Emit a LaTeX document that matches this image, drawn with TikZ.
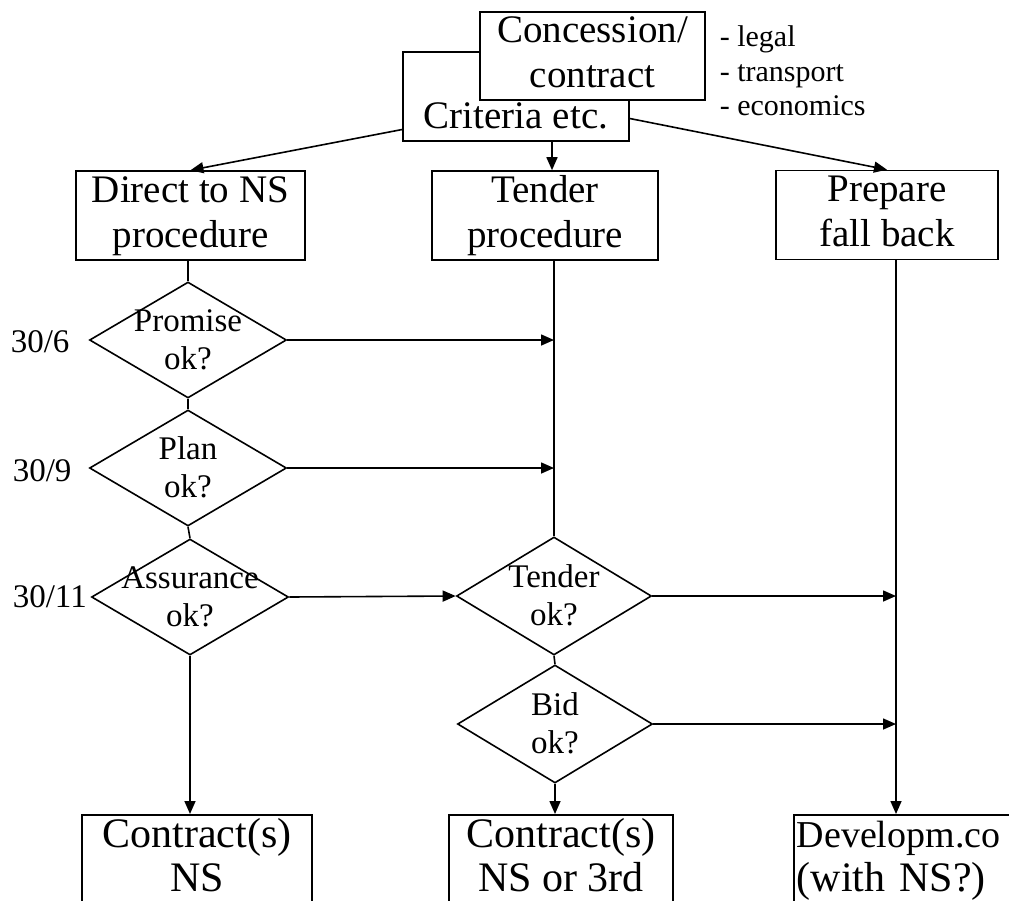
\documentclass[tikz,border=0pt]{standalone}
\usepackage{fontspec}
\setmainfont{Liberation Serif}
\usetikzlibrary{arrows.meta,shapes.geometric}

\newcommand\boxfont{\fontsize{39}{45}\selectfont}
\newcommand\resultfont{\fontsize{42}{44}\selectfont}
\newcommand\askfont{\fontsize{33}{38}\selectfont}
\newcommand\notefont{\fontsize{30}{35}\selectfont}
\newcommand\tstrut{\rule[-9pt]{0pt}{36pt}}

\begin{document}
\begin{tikzpicture}[x=1pt,y=-1pt,line width=1.6pt,
    box/.style={draw,rectangle,font=\boxfont,align=center,inner sep=0pt,minimum width=226pt,minimum height=89pt},
    resultbox/.style={draw,rectangle,font=\resultfont,align=center,inner xsep=0pt,inner ysep=2pt,anchor=north},
    ask/.style={draw,diamond,minimum width=197pt,minimum height=116pt,inner sep=0pt},
    asktext/.style={font=\askfont,align=center,inner sep=0pt,yshift=-3pt},
    date/.style={font=\askfont,anchor=west,inner sep=0pt},
    note/.style={font=\notefont,anchor=base west,inner sep=0pt},
    arr/.style={-{Triangle[length=13pt,width=11pt]}}]
    \useasboundingbox (0,0) rectangle (1009,900);
    \clip (0,0) rectangle (1009,900);

    % top: concession over criteria
    \node[box] (crit) at (516,96.5) {\tstrut\\Criteria etc.\tstrut};
    \node[box,fill=white,minimum width=225pt,minimum height=88pt] (conc) at (592.5,56) {Concession/\tstrut\\contract\tstrut};
    \node[note] (legal) at (719,46) {- legal};
    \node[note] (transport) at (719,81) {- transport};
    \node[note] (economics) at (719,115) {- economics};

    % three procedures
    \node[box,minimum width=229pt] (direct) at (190.5,215.5) {Direct to NS\tstrut\\procedure\tstrut};
    \node[box] (tender) at (545,215.5) {Tender\tstrut\\procedure\tstrut};
    \node[box,minimum width=222pt] (fallback) at (887,215) {Prepare\tstrut\\fall back\tstrut};

    % decisions
    \node[ask,label={[asktext]center:{Promise\strut\\ok?\strut}}] (promise) at (188,340) {};
    \node[ask,label={[asktext]center:{Plan\strut\\ok?\strut}}] (plan) at (188,468) {};
    \node[ask,label={[asktext]center:{Assurance\strut\\ok?\strut}}] (assurance) at (190,597) {};
    \node[ask,minimum width=195pt,minimum height=118pt,label={[asktext]center:{Tender\strut\\ok?\strut}}] (tenderok) at (554,596) {};
    \node[ask,minimum width=195pt,minimum height=118pt,label={[asktext]center:{Bid\strut\\ok?\strut}}] (bid) at (555,724) {};

    \node[date] (d6) at (10,342) {30/6};
    \node[date] (d9) at (12,471) {30/9};
    \node[date] (d11) at (12,597) {30/11};

    % results
    \node[resultbox,minimum width=230pt] (contractns) at (197,814) {Contract(s)\strut\\NS\strut};
    \node[resultbox,minimum width=224pt] (contract3rd) at (561,814) {Contract(s)\strut\\NS or 3rd\strut};
    \node[resultbox,anchor=north west,text width=300pt,align=left,inner xsep=3pt] (develop) at (793,814) {{\fontsize{38}{44}\selectfont Developm.co}\strut\\(with NS?)\strut};

    \coordinate (fb) at ([xshift=9pt]fallback.south);
    \coordinate (tl) at (tender.south -| tenderok.north);

    \draw[arr] ([yshift=-33pt]crit.west) -- (direct.north);
    \draw[arr] ([xshift=36pt]crit.south) -- ([xshift=36pt]crit.south |- tender.north);
    \draw[arr] ([yshift=-22pt]crit.east) -- (fallback.north);

    \draw (direct.south -| promise.north) -- (promise.north);
    \draw (promise.south) -- (plan.north);
    \draw (plan.south) -- (assurance.north);
    \draw (tl) -- (tenderok.north);
    \draw (tenderok.south) -- (bid.north);

    \draw[arr] (promise.east) -- (promise.east -| tl);
    \draw[arr] (plan.east) -- (plan.east -| tl);
    \draw[arr] (assurance.east) -- (tenderok.west);
    \draw[arr] (tenderok.east) -- (tenderok.east -| fb);
    \draw[arr] (bid.east) -- (bid.east -| fb);
    \draw[arr] (fb) -- (fb |- develop.north);
    \draw[arr] (assurance.south) -- (assurance.south |- contractns.north);
    \draw[arr] (bid.south) -- (bid.south |- contract3rd.north);
\end{tikzpicture}
\end{document}
